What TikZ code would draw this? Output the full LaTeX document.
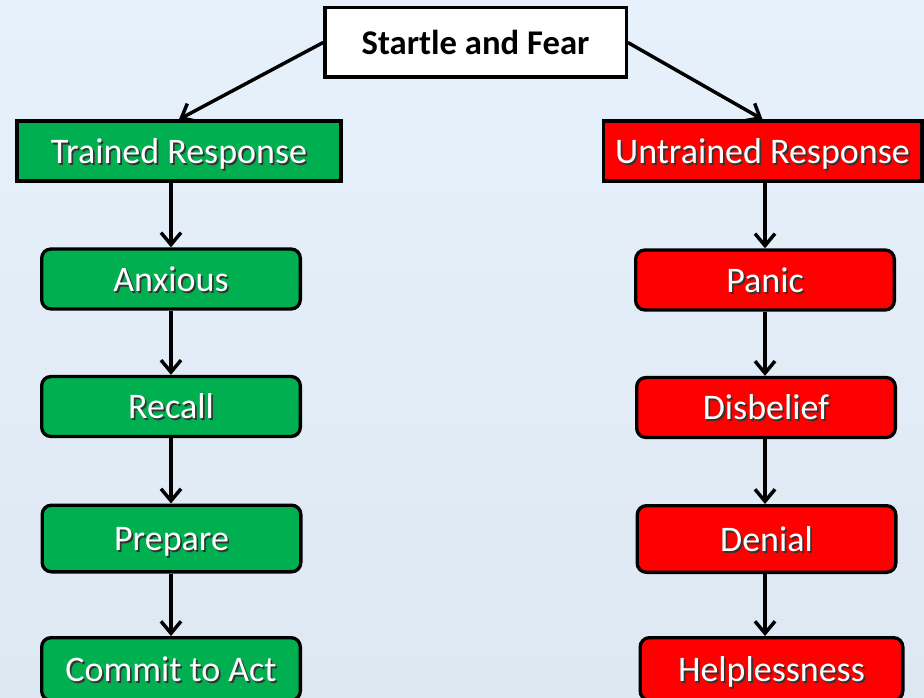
\documentclass[tikz,border=0pt]{standalone}
\usepackage{fontspec}
\setmainfont{Carlito}
\usetikzlibrary{arrows.meta,positioning}
\definecolor{sfGreen}{HTML}{00B050}
\definecolor{sfRed}{HTML}{FF0000}
\definecolor{sfBgTop}{HTML}{E7F1FC}
\definecolor{sfBgBot}{HTML}{DEE8F3}
\newcommand{\shtext}[1]{\makebox[0pt][l]{\hspace{1.3pt}\raisebox{-1.3pt}{\textcolor{black!80}{#1}}}#1}

\begin{document}
\begin{tikzpicture}[x=0.75pt,y=-0.75pt,
  font=\fontsize{27}{31}\selectfont,
  box/.style={draw=black,line width=2.5pt,inner sep=2pt,align=center,text height=22.5pt,text depth=4pt},
  root/.style={box,fill=white,minimum width=226pt,minimum height=52pt,font=\fontsize{26}{30}\selectfont\bfseries},
  head/.style={box,text=white,minimum height=45pt},
  trained/.style={head,fill=sfGreen,minimum width=243pt},
  untrained/.style={head,fill=sfRed,minimum width=239pt},
  stage/.style={box,text=white,rounded corners=7pt,minimum width=194pt,minimum height=45pt},
  good/.style={stage,fill=sfGreen},
  bad/.style={stage,fill=sfRed},
  ar/.style={-{Straight Barb[length=9pt,width=15pt]},line width=2.6pt}]

% background
\useasboundingbox (0,0) rectangle (924,698);
\fill[top color=sfBgTop,bottom color=sfBgBot] (0,0) rectangle (924,698);

\node[root] (sf) at (475.5,42.5) {Startle and Fear};

\node[trained] (tr) at (179,151) {\shtext{Trained Response}};
\node[untrained] (ut) at (762.5,151) {\shtext{Untrained Response}};

% trained side
\node[good] (anx) at (171,279) {\shtext{Anxious}};
\node[good] (rec) at (171,406.5) {\shtext{Recall}};
\node[good,minimum height=50pt] (prep) at (171.5,538.5) {\shtext{Prepare}};
\node[good,minimum height=47pt] (act) at (171,669) {\shtext{Commit to Act}};

% untrained side
\node[bad] (pan) at (765,280) {\shtext{Panic}};
\node[bad] (dis) at (766,407.5) {\shtext{Disbelief}};
\node[bad,minimum height=50pt] (den) at (766.5,539) {\shtext{Denial}};
\node[bad,minimum width=197pt,minimum height=47pt] (help) at (771.5,669) {\shtext{Helplessness}};

\draw[ar] (sf.west) -- (tr.north);
\draw[ar] (sf.east) -- (ut.north);

% columns run straight down
\draw[ar] (tr.south -| anx.north) -- (anx.north);
\draw[ar] (anx.south) -- (rec.north);
\draw[ar] (rec.south) -- (rec.south |- prep.north);
\draw[ar] (prep.south -| rec.south) -- (rec.south |- act.north);

\draw[ar] (ut.south -| pan.north) -- (pan.north);
\draw[ar] (pan.south) -- (pan.south |- dis.north);
\draw[ar] (pan.south |- dis.south) -- (pan.south |- den.north);
\draw[ar] (pan.south |- den.south) -- (pan.south |- help.north);
\end{tikzpicture}
\end{document}
